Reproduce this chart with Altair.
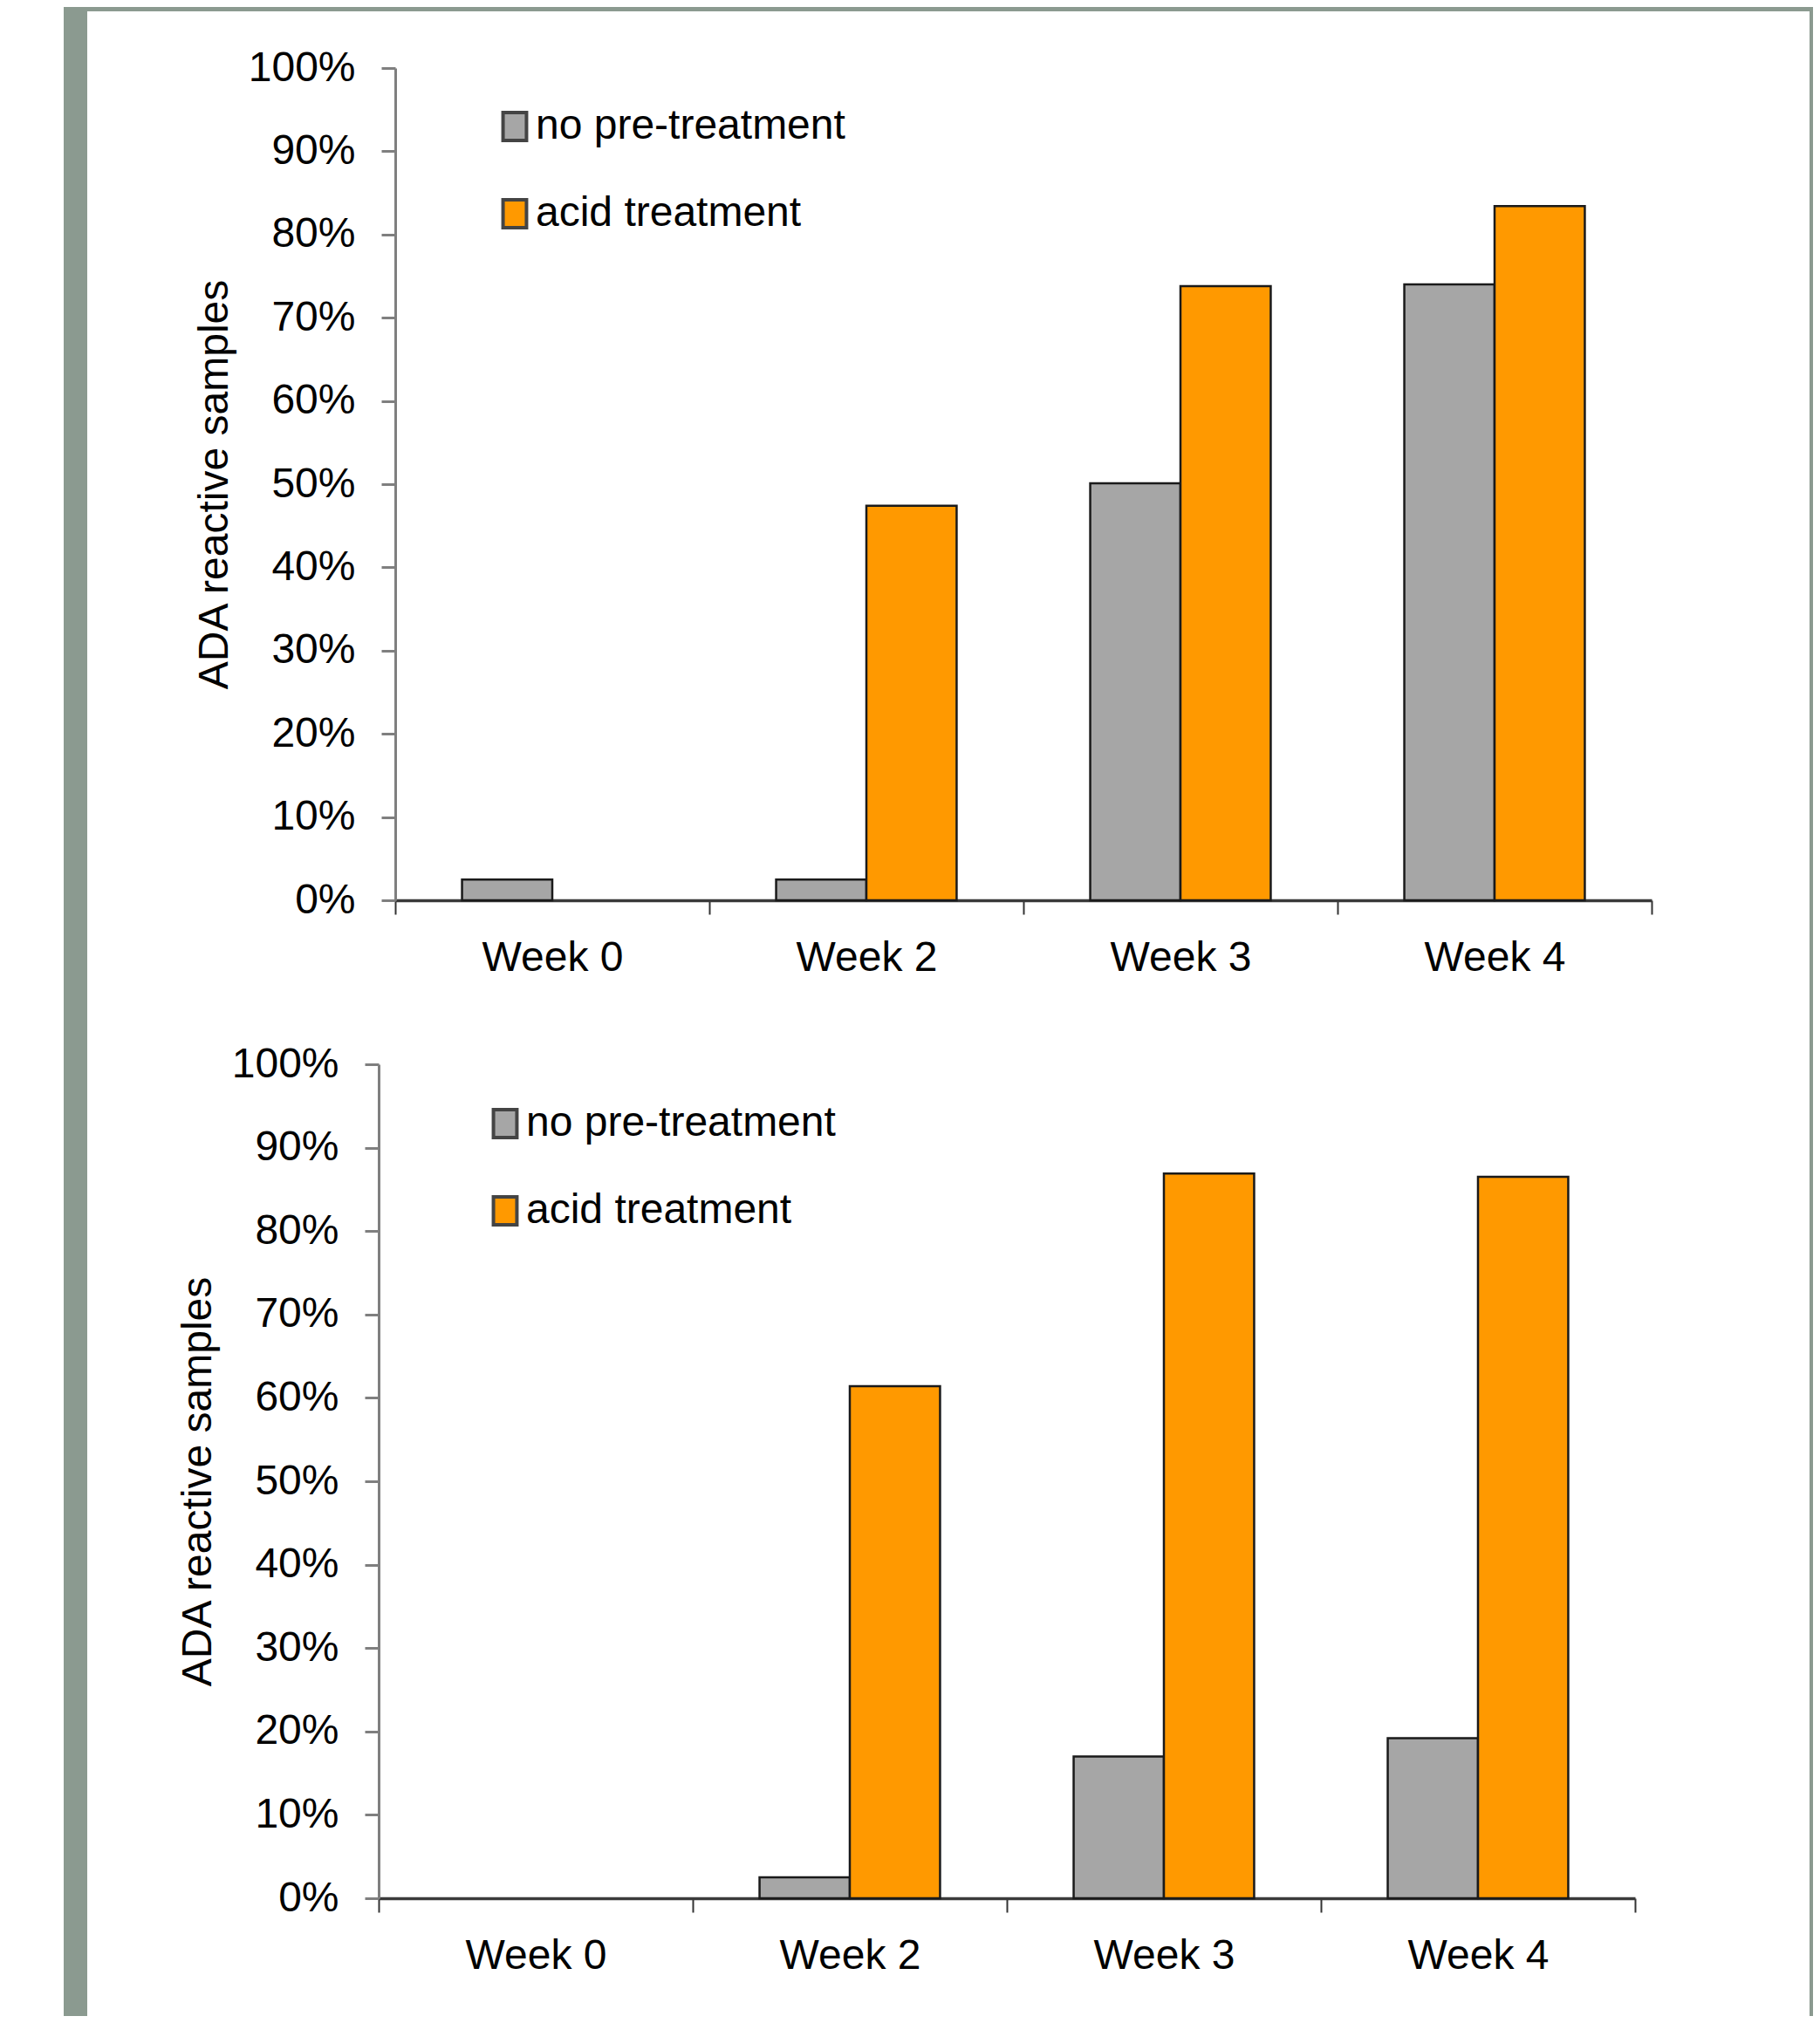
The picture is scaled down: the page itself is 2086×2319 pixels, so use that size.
import altair as alt
import pandas as pd

# ---- data ----
weeks = ["Week 0", "Week 2", "Week 3", "Week 4"]
series = ["no pre-treatment", "acid treatment"]
top_no_pre = [2.5, 2.5, 50.1, 74.0]
top_acid = [0.0, 47.4, 73.8, 83.4]
bottom_no_pre = [0.0, 2.5, 17.0, 19.2]
bottom_acid = [0.0, 61.4, 86.9, 86.5]
y_ticks = [0, 10, 20, 30, 40, 50, 60, 70, 80, 90, 100]
y_title = "ADA reactive samples"
bar_colors = ["#A6A6A6", "#FF9900"]

FONT = "Liberation Sans"
GREEN = "#8B9A90"
PLOT_W = 1440
ORIGIN_X = 434  # common page x of both panels' origin


def make_df(no_pre, acid):
    rows = []
    for w, a, b in zip(weeks, no_pre, acid):
        rows.append({"week": w, "series": series[0], "value": a})
        rows.append({"week": w, "series": series[1], "value": b})
    return pd.DataFrame(rows)


one = pd.DataFrame({"k": [0]})


def frame_rect(x1, x2, y1, y2):
    return alt.Chart(one).mark_rect(color=GREEN).encode(
        x=alt.value(x1), x2=alt.value(x2), y=alt.value(y1), y2=alt.value(y2)
    )


def panel(df, shift, plot_top, height, split_top, split_bottom,
          legend_x, legend_y, with_top_band):
    bars = (
        alt.Chart(df)
        .transform_filter("datum.value > 0")
        .mark_bar(stroke="#1a1a1a", strokeWidth=2.5)
        .encode(
            x=alt.X(
                "week:N",
                sort=weeks,
                scale=alt.Scale(domain=weeks, paddingInner=0, paddingOuter=0,
                                range=[shift, shift + PLOT_W]),
                axis=alt.Axis(
                    title=None, labelAngle=0, labelFont=FONT, labelFontSize=48,
                    labelColor="black", labelPadding=26, labelLimit=400,
                    tickBand="extent", tickSize=16, tickWidth=2,
                    tickColor="#333333", domainColor="#3a3a3a",
                    domainWidth=3.5, grid=False,
                ),
            ),
            xOffset=alt.XOffset(
                "series:N",
                sort=series,
                scale=alt.Scale(domain=series, paddingInner=0, paddingOuter=0.74),
            ),
            y=alt.Y(
                "value:Q",
                scale=alt.Scale(domain=[0, 100], nice=False),
                axis=alt.Axis(
                    values=y_ticks, labelExpr="datum.value + '%'",
                    offset=-shift,
                    title=y_title, titleFont=FONT, titleFontSize=48,
                    titleFontWeight="normal", titleColor="black",
                    titlePadding=14, labelFont=FONT, labelFontSize=48,
                    labelColor="black", labelPadding=30, labelLimit=400,
                    tickSize=16, tickWidth=3, tickColor="#7f7f7f",
                    domainColor="#7f7f7f", domainWidth=3, grid=False,
                ),
            ),
            color=alt.Color(
                "series:N",
                sort=series,
                scale=alt.Scale(domain=series, range=bar_colors),
                legend=alt.Legend(
                    title=None, orient="none", legendX=shift + legend_x,
                    legendY=legend_y,
                    symbolType="M-0.84,-1H0.84V1H-0.84Z", symbolSize=1024,
                    symbolStrokeColor="#444444", symbolStrokeWidth=4,
                    symbolOpacity=1, labelFont=FONT, labelFontSize=48,
                    labelColor="black", labelLimit=800, labelOffset=0,
                    rowPadding=52, padding=0,
                ),
            ),
        )
    )
    x_left = 73 - ORIGIN_X
    x_right = 2078 - ORIGIN_X
    y1 = split_top - plot_top
    y2 = split_bottom - plot_top
    layers = [
        frame_rect(x_left, x_left + 27, y1, y2),
        frame_rect(x_right - 4, x_right, y1, y2),
    ]
    if with_top_band:
        layers.append(frame_rect(x_left, x_right, y1, y1 + 5))
    layers.append(bars)
    return alt.layer(*layers).properties(width=PLOT_W + shift, height=height)


top = panel(make_df(top_no_pre, top_acid), shift=453 - ORIGIN_X, plot_top=78,
            height=954, split_top=8, split_bottom=1160,
            legend_x=113, legend_y=43, with_top_band=True)
bottom = panel(make_df(bottom_no_pre, bottom_acid), shift=0,
               plot_top=1220, height=956, split_top=1160, split_bottom=2311,
               legend_x=121, legend_y=44, with_top_band=False)

chart = (
    alt.vconcat(top, bottom, spacing=0)
    .resolve_legend(color="independent")
    .resolve_scale(color="independent")
    .properties(padding={"left": 65, "top": 0, "right": 0, "bottom": 0},
                background="white")
    .configure_view(stroke=None)
)

chart.save("out.html", embed_options={"renderer": "svg", "actions": False})
